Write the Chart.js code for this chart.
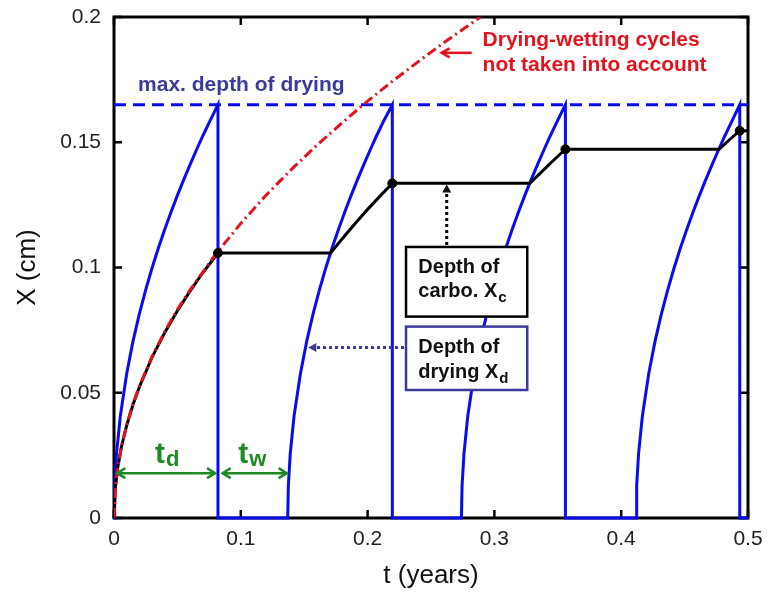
<!DOCTYPE html>
<html>
<head>
<meta charset="utf-8">
<title>Depth of drying and carbonation</title>
<script src="https://cdn.jsdelivr.net/npm/chart.js@4.4.1/dist/chart.umd.min.js"></script>
<style>
  html, body { margin:0; padding:0; background:#fff; }
  #chart { display:block; }
</style>
</head>
<body>
<canvas id="chart" width="768" height="595"></canvas>
<script>
// axes: time in years, depth in cm
const xTicks = [0, 0.1, 0.2, 0.3, 0.4, 0.5];
const yTicks = [0, 0.05, 0.1, 0.15, 0.2];
const maxDryingDepth = 0.165;

// drying front X_d (four drying phases, back to 0 on wetting)
const dryT = [
  0, 0.0005, 0.002, 0.005, 0.01, 0.015, 0.02, 0.025, 0.03, 0.035, 0.04, 0.045, 0.05, 0.055, 0.06, 0.065, 0.07, 0.076, 0.082, 0.082,
  0.137, 0.1375, 0.139, 0.142, 0.147, 0.152, 0.157, 0.162, 0.167, 0.172, 0.177, 0.182, 0.187, 0.192, 0.197, 0.202, 0.207, 0.213, 0.2195, 0.2195,
  0.274, 0.2745, 0.276, 0.279, 0.284, 0.289, 0.294, 0.299, 0.304, 0.309, 0.314, 0.319, 0.324, 0.329, 0.334, 0.339, 0.344, 0.35, 0.356, 0.356,
  0.4117, 0.4122, 0.4137, 0.4167, 0.4217, 0.4267, 0.4317, 0.4367, 0.4417, 0.4467, 0.4517, 0.4567, 0.4617, 0.4667, 0.4717, 0.4767, 0.4817, 0.4877, 0.4935, 0.4935,
  0.5
];
const dryX = [
  0, 0.0129, 0.0257, 0.0407, 0.0576, 0.0706, 0.0815, 0.0911, 0.0998, 0.1078, 0.1152, 0.1222, 0.1288, 0.1351, 0.1411, 0.1469, 0.1525, 0.1588, 0.165, 0,
  0, 0.0129, 0.0257, 0.0407, 0.0576, 0.0706, 0.0815, 0.0911, 0.0998, 0.1078, 0.1152, 0.1222, 0.1288, 0.1351, 0.1411, 0.1469, 0.1525, 0.1588, 0.165, 0,
  0, 0.0129, 0.0257, 0.0407, 0.0576, 0.0706, 0.0815, 0.0911, 0.0998, 0.1078, 0.1152, 0.1222, 0.1288, 0.1351, 0.1411, 0.1469, 0.1525, 0.1588, 0.165, 0,
  0, 0.0129, 0.0257, 0.0407, 0.0576, 0.0706, 0.0815, 0.0911, 0.0998, 0.1078, 0.1152, 0.1222, 0.1288, 0.1351, 0.1411, 0.1469, 0.1525, 0.1588, 0.165, 0,
  0
];

// carbonation front X_c with the cycles
const carbT = [0, 0.001, 0.003, 0.006, 0.01, 0.015, 0.02, 0.03, 0.04, 0.05, 0.06, 0.07, 0.082,
  0.1708, 0.18, 0.19, 0.2, 0.21, 0.2195,
  0.328, 0.335, 0.345, 0.356,
  0.4772, 0.485, 0.4935, 0.5];
const carbX = [0, 0.0117, 0.0203, 0.0287, 0.037, 0.0453, 0.0523, 0.0641, 0.074, 0.0827, 0.0906, 0.0979, 0.1058,
  0.1058, 0.1115, 0.1175, 0.1232, 0.1286, 0.1336,
  0.1336, 0.1371, 0.142, 0.1472,
  0.1472, 0.1508, 0.1546, 0.1546];

// X_c at the end of each drying phase
const knotT = [0.082, 0.2195, 0.356, 0.4935];
const knotX = [0.1058, 0.1336, 0.1472, 0.1546];

// carbonation without drying-wetting cycles
const refT = [0, 0.001, 0.003, 0.006, 0.01, 0.015, 0.02, 0.03, 0.04, 0.05, 0.06, 0.08, 0.1, 0.12, 0.14, 0.16, 0.18, 0.2, 0.22, 0.24, 0.26, 0.28, 0.289];
const refX = [0, 0.0118, 0.0204, 0.0288, 0.0372, 0.0456, 0.0526, 0.0644, 0.0744, 0.0832, 0.0911, 0.1052, 0.1176, 0.1289, 0.1392, 0.1488, 0.1578, 0.1664, 0.1745, 0.1822, 0.1897, 0.1968, 0.2];

const FONT = '"Liberation Sans", Arial, Helvetica, sans-serif';
const BLUE = '#0b0bf0';
const NAVY = '#3b3b9c';
const RED = '#e3131d';
const GREEN = '#1f8a24';

const pts = (ts, vs) => ts.map((t, i) => ({ x: t, y: vs[i] }));

// box with inward ticks on all four sides
const frame = {
  id: 'frame',
  beforeDatasetsDraw(chart) {
    const { ctx, chartArea: a, scales: { x, y } } = chart;
    ctx.save();
    ctx.strokeStyle = '#000';
    ctx.lineWidth = 3;
    ctx.strokeRect(a.left, a.top, a.right - a.left, a.bottom - a.top);
    ctx.lineWidth = 2.5;
    ctx.beginPath();
    xTicks.forEach(v => {
      const px = x.getPixelForValue(v);
      ctx.moveTo(px, a.bottom); ctx.lineTo(px, a.bottom - 8);
      ctx.moveTo(px, a.top); ctx.lineTo(px, a.top + 8);
    });
    yTicks.forEach(v => {
      const py = y.getPixelForValue(v);
      ctx.moveTo(a.left, py); ctx.lineTo(a.left + 8, py);
      ctx.moveTo(a.right, py); ctx.lineTo(a.right - 8, py);
    });
    ctx.stroke();
    ctx.restore();
  }
};

function head(ctx, tipX, tipY, dx, dy, len, half, filled) {
  // dx,dy: unit direction the arrow points to
  const bx = tipX - dx * len, by = tipY - dy * len;
  const nx = -dy * half, ny = dx * half;
  ctx.beginPath();
  ctx.moveTo(bx + nx, by + ny);
  ctx.lineTo(tipX, tipY);
  ctx.lineTo(bx - nx, by - ny);
  if (filled) { ctx.closePath(); ctx.fill(); } else { ctx.stroke(); }
}

function subText(ctx, main, sub, x, y, size, subSize, drop) {
  ctx.font = `bold ${size}px ${FONT}`;
  ctx.fillText(main, x, y);
  const w = ctx.measureText(main).width;
  ctx.font = `bold ${subSize}px ${FONT}`;
  ctx.fillText(sub, x + w + 1, y + drop);
}

const notes = {
  id: 'notes',
  afterDatasetsDraw(chart) {
    const { ctx, scales: { x, y } } = chart;
    const X = v => x.getPixelForValue(v);
    const Y = v => y.getPixelForValue(v);
    ctx.save();
    ctx.textAlign = 'left';
    ctx.textBaseline = 'alphabetic';
    ctx.setLineDash([]);

    ctx.fillStyle = NAVY;
    ctx.font = `bold 21px ${FONT}`;
    ctx.fillText('max. depth of drying', X(0.019), Y(0.1705));

    ctx.fillStyle = RED;
    ctx.fillText('Drying-wetting cycles', X(0.2907), Y(0.1883));
    ctx.fillText('not taken into account', X(0.2907), Y(0.1786));
    ctx.strokeStyle = RED;
    ctx.lineWidth = 2.5;
    ctx.beginPath();
    ctx.moveTo(X(0.2821), Y(0.1857));
    ctx.lineTo(X(0.2588), Y(0.1857));
    ctx.stroke();
    head(ctx, X(0.2584), Y(0.1857), -1, 0, 8, 4.5, false);

    // X_c label box
    const bl = X(0.2303), br = X(0.3259);
    let bt = Y(0.1082), bb = Y(0.0804);
    ctx.fillStyle = '#fff';
    ctx.fillRect(bl, bt, br - bl, bb - bt);
    ctx.strokeStyle = '#000';
    ctx.lineWidth = 2.5;
    ctx.strokeRect(bl, bt, br - bl, bb - bt);
    ctx.fillStyle = '#111';
    ctx.font = `bold 20px ${FONT}`;
    ctx.fillText('Depth of', X(0.24), Y(0.0978));
    subText(ctx, 'carbo. X', 'c', X(0.24), Y(0.0882), 20, 15, 5);

    ctx.setLineDash([3, 3]);
    ctx.lineWidth = 3;
    ctx.beginPath();
    ctx.moveTo(X(0.2624), bt - 2);
    ctx.lineTo(X(0.2624), Y(0.1331) + 6);
    ctx.stroke();
    ctx.setLineDash([]);
    ctx.fillStyle = '#111';
    head(ctx, X(0.2624), Y(0.1331), 0, -1, 8, 4.5, true);

    // X_d label box
    bt = Y(0.0764); bb = Y(0.0511);
    ctx.fillStyle = '#fff';
    ctx.fillRect(bl, bt, br - bl, bb - bt);
    ctx.strokeStyle = NAVY;
    ctx.lineWidth = 2.5;
    ctx.strokeRect(bl, bt, br - bl, bb - bt);
    ctx.fillStyle = '#111';
    ctx.font = `bold 20px ${FONT}`;
    ctx.fillText('Depth of', X(0.24), Y(0.0658));
    subText(ctx, 'drying X', 'd', X(0.24), Y(0.0558), 20, 15, 5);

    ctx.setLineDash([3, 3]);
    ctx.lineWidth = 3;
    ctx.beginPath();
    ctx.moveTo(bl - 2, Y(0.0681));
    ctx.lineTo(X(0.1532) + 6, Y(0.0681));
    ctx.stroke();
    ctx.setLineDash([]);
    ctx.fillStyle = NAVY;
    head(ctx, X(0.1532), Y(0.0681), -1, 0, 8, 4.5, true);

    // drying / wetting durations
    ctx.strokeStyle = GREEN;
    ctx.fillStyle = GREEN;
    ctx.lineWidth = 2.5;
    [[0.0026, 0.0797], [0.0857, 0.1362]].forEach(([a, b]) => {
      ctx.beginPath();
      ctx.moveTo(X(a), Y(0.0179));
      ctx.lineTo(X(b), Y(0.0179));
      ctx.stroke();
      head(ctx, X(a), Y(0.0179), -1, 0, 8, 5, false);
      head(ctx, X(b), Y(0.0179), 1, 0, 8, 5, false);
    });
    subText(ctx, 't', 'd', X(0.0323), Y(0.0219), 30, 22, 3);
    subText(ctx, 't', 'w', X(0.098), Y(0.0219), 30, 22, 3);

    ctx.restore();
  }
};

Chart.defaults.font.family = FONT;

new Chart(document.getElementById('chart'), {
  type: 'scatter',
  data: {
    datasets: [
      {
        data: pts(knotT, knotX),
        showLine: false,
        pointRadius: 4.5,
        pointBackgroundColor: '#000',
        pointBorderColor: '#000',
        clip: 6
      },
      {
        data: pts(refT, refX),
        showLine: true,
        borderColor: RED,
        borderWidth: 3,
        borderDash: [10, 4, 2, 4],
        pointRadius: 0
      },
      {
        data: pts(carbT, carbX),
        showLine: true,
        borderColor: '#000',
        borderWidth: 3,
        pointRadius: 0,
        clip: 4
      },
      {
        data: pts(dryT, dryX),
        showLine: true,
        borderColor: BLUE,
        borderWidth: 3,
        pointRadius: 0,
        clip: 4
      },
      {
        data: [{ x: 0, y: maxDryingDepth }, { x: 0.5, y: maxDryingDepth }],
        showLine: true,
        borderColor: BLUE,
        borderWidth: 3,
        borderDash: [12, 7],
        pointRadius: 0
      }
    ]
  },
  options: {
    responsive: false,
    animation: false,
    layout: { padding: { top: 17, right: 20, left: 0, bottom: 0 } },
    plugins: { legend: { display: false }, tooltip: { enabled: false } },
    scales: {
      x: {
        type: 'linear',
        min: 0,
        max: 0.5,
        afterBuildTicks: s => { s.ticks = xTicks.map(v => ({ value: v })); },
        afterFit: s => { s.height = 77; s.paddingLeft = 0; s.paddingRight = 0; },
        grid: { display: false, drawTicks: false },
        border: { display: false },
        ticks: { autoSkip: false, maxRotation: 0, padding: 9, color: '#222', font: { size: 21 }, callback: v => String(v) },
        title: { display: true, text: 't (years)', color: '#111', font: { size: 26 }, padding: { top: 0, bottom: 4 } }
      },
      y: {
        type: 'linear',
        min: 0,
        max: 0.2,
        afterBuildTicks: s => { s.ticks = yTicks.map(v => ({ value: v })); },
        afterFit: s => { s.width = 114; s.paddingTop = 0; s.paddingBottom = 0; },
        grid: { display: false, drawTicks: false },
        border: { display: false },
        ticks: { autoSkip: false, padding: 13, color: '#222', font: { size: 21 }, callback: v => String(v) },
        title: { display: true, text: 'X (cm)', color: '#111', font: { size: 26 }, padding: { top: 12, bottom: 0 } }
      }
    }
  },
  plugins: [frame, notes]
});
</script>
</body>
</html>
